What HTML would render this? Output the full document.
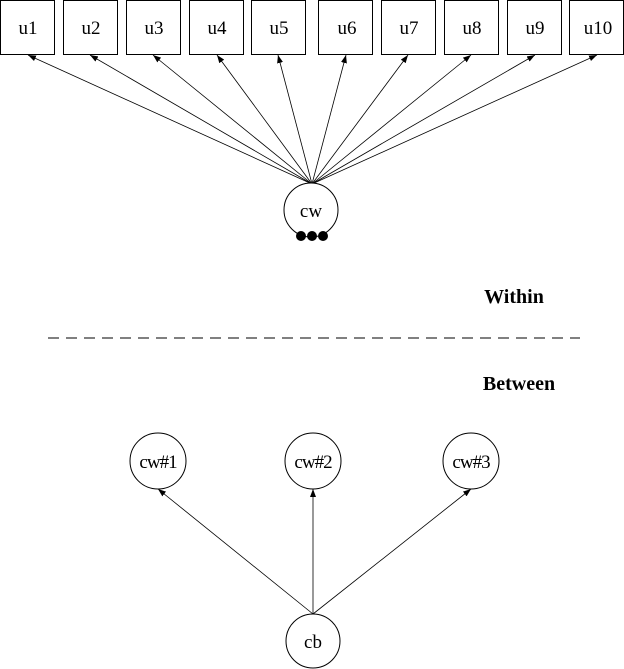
<!DOCTYPE html>
<html><head><meta charset="utf-8"><style>
html,body{margin:0;padding:0;background:#fff;}
svg{display:block;}
text{font-family:"Liberation Serif",serif;}
</style></head><body>
<svg width="624" height="669" viewBox="0 0 624 669" xmlns="http://www.w3.org/2000/svg">
<defs><marker id="a" markerWidth="8" markerHeight="6" refX="8" refY="3" orient="auto" markerUnits="userSpaceOnUse"><path d="M0,0 L8,3 L0,6 z" fill="#000"/></marker></defs>
<g fill="#fff" stroke="#000" stroke-width="1">
<rect x="0.5" y="0.5" width="54" height="54"/>
<rect x="63.5" y="0.5" width="54" height="54"/>
<rect x="126.5" y="0.5" width="54" height="54"/>
<rect x="189.5" y="0.5" width="54" height="54"/>
<rect x="251.5" y="0.5" width="54" height="54"/>
<rect x="318.5" y="0.5" width="54" height="54"/>
<rect x="381.5" y="0.5" width="54" height="54"/>
<rect x="444.5" y="0.5" width="54" height="54"/>
<rect x="507.5" y="0.5" width="54" height="54"/>
<rect x="569.5" y="0.5" width="54" height="54"/>
</g>
<g font-size="19" text-anchor="middle">
<text x="28" y="34">u1</text><text x="91" y="34">u2</text><text x="154" y="34">u3</text><text x="217" y="34">u4</text><text x="279" y="34">u5</text>
<text x="347" y="34">u6</text><text x="409" y="34">u7</text><text x="472" y="34">u8</text><text x="535" y="34">u9</text><text x="598" y="34">u10</text>
</g>
<g stroke="#000" stroke-width="0.8" marker-end="url(#a)">
<line x1="312" y1="184" x2="28" y2="55"/>
<line x1="312" y1="184" x2="90" y2="55"/>
<line x1="312" y1="184" x2="153" y2="55"/>
<line x1="312" y1="184" x2="217" y2="55"/>
<line x1="312" y1="184" x2="278" y2="55"/>
<line x1="312" y1="184" x2="346" y2="55"/>
<line x1="312" y1="184" x2="408" y2="55"/>
<line x1="312" y1="184" x2="471" y2="55"/>
<line x1="312" y1="184" x2="535" y2="55"/>
<line x1="312" y1="184" x2="597" y2="55"/>
</g>
<circle cx="311" cy="210" r="27" fill="#fff" stroke="#000"/>
<text x="311" y="217" font-size="19" text-anchor="middle">cw</text>
<circle cx="301" cy="236" r="5"/><circle cx="312" cy="236" r="5"/><circle cx="323" cy="236" r="5"/>
<text x="514" y="303" font-size="20" font-weight="bold" text-anchor="middle">Within</text>
<line x1="48" y1="338" x2="580" y2="338" stroke="#000" stroke-dasharray="11,7"/>
<text x="519" y="390" font-size="20" font-weight="bold" text-anchor="middle">Between</text>
<g fill="#fff" stroke="#000">
<circle cx="158" cy="461" r="28"/><circle cx="313" cy="461" r="28"/><circle cx="471" cy="461" r="28"/>
<circle cx="313" cy="641" r="27"/>
</g>
<g font-size="19" text-anchor="middle" letter-spacing="-1">
<text x="158" y="468">cw#1</text><text x="313" y="468">cw#2</text><text x="471" y="468">cw#3</text>
</g>
<text x="313" y="648" font-size="19" text-anchor="middle">cb</text>
<g stroke="#000" stroke-width="0.8" marker-end="url(#a)">
<line x1="313" y1="614" x2="158" y2="489"/>
<line x1="313" y1="614" x2="313" y2="489"/>
<line x1="313" y1="614" x2="471" y2="489"/>
</g>
</svg>
</body></html>
